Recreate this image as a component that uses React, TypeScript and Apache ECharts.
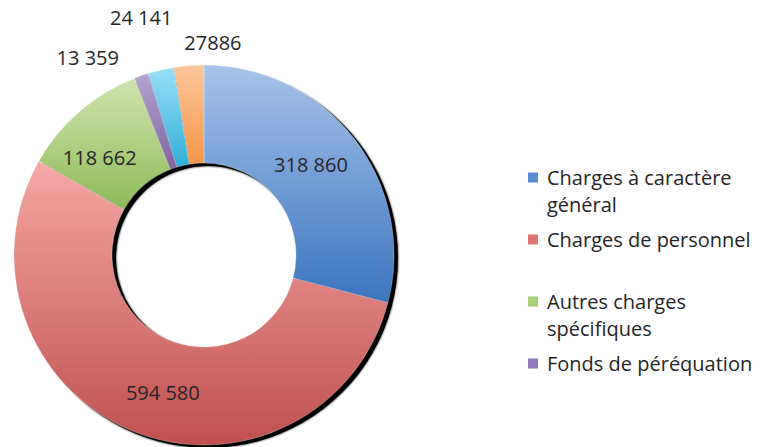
import React, { useEffect, useRef } from "react";
import * as echarts from "echarts";

const categories = [
  "Charges à caractère général",
  "Charges de personnel",
  "Autres charges spécifiques",
  "Fonds de péréquation",
  "Charges financières",
  "Charges exceptionnelles",
];
const values = [318860, 594580, 118662, 13359, 24141, 27886];
const valueLabels = ["318 860", "594 580", "118 662", "13 359", "24 141", "27886"];
const legendNames = categories.slice(0, 4);
const legendText = [
  "Charges à caractère\ngénéral",
  "Charges de personnel\n ",
  "Autres charges\nspécifiques",
  "Fonds de péréquation\n ",
];
const gradientStops = [
  ["#A7C3E8", "#3B74BF"],
  ["#F5A8A6", "#C0504D"],
  ["#D0E4B1", "#8DBB58"],
  ["#B3A3D2", "#8064A2"],
  ["#9ADFF6", "#2EAFD7"],
  ["#FBC69D", "#F79646"],
];
const legendColors = ["#5B8CD1", "#E07470", "#A8CE76", "#9079B8"];

const FONT = "'Open Sans', 'Noto Sans', sans-serif";
const CX = 204;
const CY = 255;
const RADIUS = [92, 190];
// label placement tweaks (pixel shifts for inside labels, polar anchors for outside ones)
const insideShift: Record<number, [number, number]> = { 0: [-7, -2], 1: [13, 4], 2: [-10, 11] };
const outsidePolar: Record<number, [number, number]> = { 3: [329.5, 229], 4: [345.2, 246], 5: [2.4, 213] };

export default function App() {
  const ref = useRef<HTMLDivElement>(null);
  useEffect(() => {
    if (!ref.current) return;
    const chart = echarts.init(ref.current, undefined, { renderer: "svg" });
    const total = values.reduce((a, b) => a + b, 0);
    chart.setOption({
      animation: false,
      backgroundColor: "#ffffff",
      legend: {
        orient: "vertical",
        left: 528,
        top: 164,
        padding: 0,
        itemGap: 8,
        itemWidth: 14,
        itemHeight: 37,
        selectedMode: false,
        icon: "path://M0,0L10,0L10,10L0,10Z M14,37L14.01,37",
        data: legendNames.map((n, i) => ({
          name: n,
          itemStyle: { color: legendColors[i], borderWidth: 0 },
        })),
        formatter: (n: string) => legendText[legendNames.indexOf(n)],
        textStyle: { fontFamily: FONT, fontSize: 20, lineHeight: 27, color: "#262626" },
      },
      series: [
        {
          // drop shadow of the whole ring
          type: "pie",
          name: "shadow",
          silent: true,
          center: [CX + 4, CY + 3],
          radius: RADIUS,
          startAngle: 90,
          label: { show: false },
          labelLine: { show: false },
          emphasis: { disabled: true },
          itemStyle: {
            color: "#000000",
            borderWidth: 0,
            shadowColor: "#000000",
            shadowBlur: 2,
          },
          data: [{ value: total, name: "__shadow__" }],
        },
        {
          type: "pie",
          center: [CX, CY],
          radius: RADIUS,
          startAngle: 90,
          clockwise: true,
          avoidLabelOverlap: false,
          label: {
            fontFamily: FONT,
            fontSize: 20,
            color: "#262626",
            formatter: (p: any) => valueLabels[p.dataIndex],
          },
          labelLine: { show: false, length: 12, length2: 0 },
          labelLayout: (p: any) => {
            const i = p.dataIndex;
            if (outsidePolar[i]) {
              const [deg, r] = outsidePolar[i];
              const a = (deg * Math.PI) / 180;
              return {
                x: CX + r * Math.sin(a),
                y: CY - r * Math.cos(a),
                align: "center",
                verticalAlign: "middle",
              };
            }
            const s = insideShift[i] || [0, 0];
            return { dx: s[0], dy: s[1] };
          },
          itemStyle: {
            borderColor: "rgba(255,255,255,0.6)",
            borderWidth: 0.5,
          },
          emphasis: { disabled: true },
          data: values.map((v, i) => ({
            value: v,
            name: categories[i],
            label: { position: i < 3 ? "inside" : "outside" },
            itemStyle: {
              color: new echarts.graphic.LinearGradient(0, 0, 0, 1, [
                { offset: 0, color: gradientStops[i][0] },
                { offset: 1, color: gradientStops[i][1] },
              ]),
            },
          })),
        },
      ],
    });
    return () => chart.dispose();
  }, []);
  return (
    <div
      ref={ref}
      style={{ position: "fixed", left: 0, top: 0, width: 773, height: 447 }}
    />
  );
}
